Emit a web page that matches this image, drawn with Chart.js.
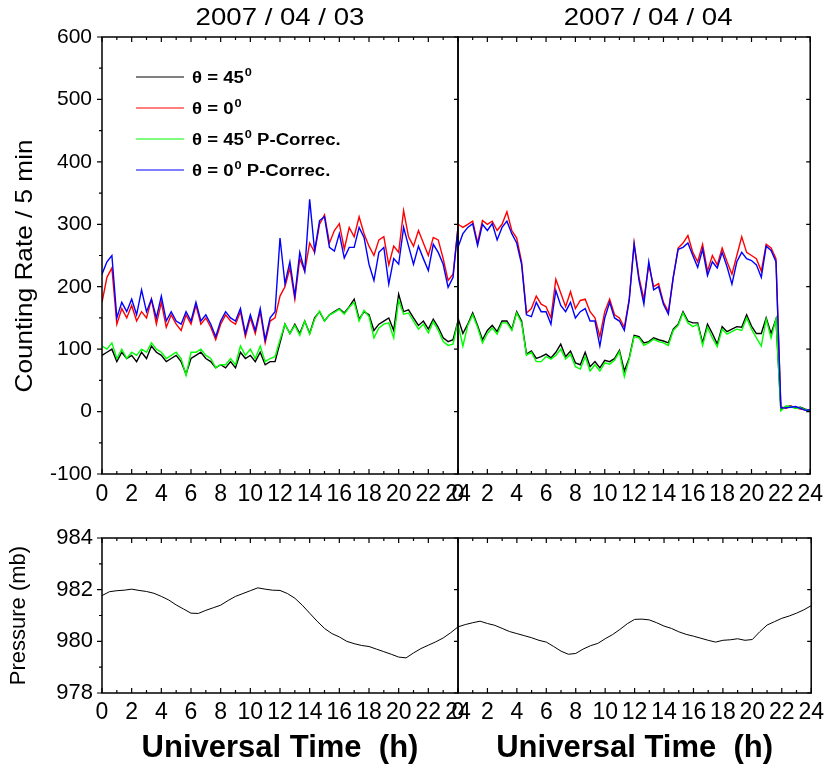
<!DOCTYPE html>
<html>
<head>
<meta charset="utf-8">
<title>Counting rate and pressure, 2007/04/03-04</title>
<script src="https://cdn.jsdelivr.net/npm/chart.js@4.4.0/dist/chart.umd.min.js"></script>
<style>
  body { margin: 0; background: #fff; }
  #wrap { position: relative; width: 830px; height: 772px; }
  #wrap canvas { position: absolute; left: 0; top: 0; }
</style>
</head>
<body>
<div id="wrap">
  <canvas id="rateDay1" width="830" height="772"></canvas>
  <canvas id="rateDay2" width="830" height="772"></canvas>
  <canvas id="pressDay1" width="830" height="772"></canvas>
  <canvas id="pressDay2" width="830" height="772"></canvas>
</div>
<script>
// counting rate (counts / 5 min), one value every 20 min, 0h..24h
const rate45Day1 = [90, 95, 100, 80, 95, 85, 90, 80, 95, 85, 105, 95, 90, 80, 85, 90, 80, 60, 85, 90, 95, 85, 80, 70, 75, 70, 80, 70, 95, 85, 90, 80, 95, 75, 80, 80, 110,
  140, 125, 140, 125, 145, 125, 150, 160, 145, 155, 160, 165, 158, 168, 180, 148, 160, 155, 130, 140, 145, 150, 130, 188, 160, 163, 150, 138, 145, 132, 148, 135, 118, 112, 115, 145];
const rate0Day1 = [175, 215, 230, 140, 165, 150, 170, 145, 160, 150, 180, 140, 175, 135, 155, 140, 130, 155, 140, 170, 140, 150, 135, 115, 140, 155, 145, 140, 160, 120, 150, 125, 160, 110, 145, 150, 185,
  200, 230, 180, 245, 225, 270, 255, 300, 315, 270, 290, 301, 260, 295, 280, 312, 285, 265, 250, 275, 280, 235, 265, 255, 322, 280, 265, 290, 270, 250, 279, 275, 245, 210, 220, 295];
const rate45CorrDay1 = [105, 100, 110, 85, 100, 85, 95, 90, 100, 95, 110, 100, 95, 85, 90, 95, 85, 58, 95, 95, 100, 90, 85, 70, 75, 75, 85, 75, 105, 90, 100, 85, 105, 80, 85, 88, 115,
  140, 125, 138, 122, 145, 124, 148, 161, 145, 155, 159, 164, 156, 167, 175, 145, 162, 152, 118, 134, 140, 142, 118, 178, 156, 158, 145, 132, 140, 126, 144, 130, 112, 106, 108, 145];
const rate0CorrDay1 = [220, 240, 250, 150, 175, 160, 180, 155, 195, 160, 180, 150, 185, 145, 160, 145, 140, 160, 145, 175, 145, 155, 140, 120, 145, 160, 150, 145, 165, 125, 155, 130, 165, 115, 150, 160, 278,
  205, 240, 185, 255, 225, 340, 257, 306, 312, 263, 257, 285, 246, 263, 263, 295, 279, 236, 210, 255, 263, 204, 245, 236, 295, 265, 236, 265, 245, 226, 268, 255, 236, 199, 215, 295];

const rate45Day2 = [150, 125, 140, 158, 138, 115, 130, 138, 128, 145, 145, 132, 160, 145, 92, 97, 85, 88, 92, 86, 95, 108, 88, 97, 78, 75, 95, 72, 80, 70, 82, 80, 85, 98, 65, 86, 122,
  120, 110, 112, 118, 115, 113, 110, 132, 140, 160, 145, 142, 142, 110, 140, 125, 108, 136, 128, 132, 136, 135, 155, 137, 125, 125, 150, 125, 148, 3, 8, 9, 6, 7, 4, 2];
const rate0Day2 = [300, 295, 300, 305, 270, 306, 300, 305, 290, 300, 320, 290, 278, 240, 158, 165, 185, 172, 168, 150, 212, 190, 168, 192, 165, 178, 180, 160, 150, 120, 160, 180, 155, 150, 135, 180, 270,
  215, 180, 235, 200, 205, 175, 160, 215, 262, 270, 282, 255, 240, 268, 225, 250, 235, 262, 240, 220, 250, 280, 255, 250, 245, 225, 268, 262, 245, 8, 5, 9, 6, 4, 3, 2];
const rate45CorrDay2 = [140, 105, 138, 155, 135, 110, 125, 134, 124, 142, 142, 130, 158, 142, 90, 95, 80, 80, 88, 84, 90, 100, 84, 92, 72, 68, 88, 65, 75, 65, 78, 76, 82, 96, 56, 84, 120,
  118, 106, 110, 116, 112, 110, 106, 130, 138, 158, 142, 136, 140, 106, 135, 118, 104, 132, 124, 128, 132, 130, 150, 132, 118, 105, 148, 118, 148, 1, 9, 8, 5, 6, 3, 1];
const rate0CorrDay2 = [263, 285, 295, 301, 266, 300, 290, 301, 275, 295, 305, 285, 270, 236, 155, 152, 175, 160, 160, 140, 194, 170, 160, 175, 150, 160, 165, 145, 145, 105, 150, 175, 150, 145, 130, 178, 268,
  210, 172, 240, 195, 200, 172, 156, 215, 260, 263, 270, 250, 231, 260, 218, 240, 230, 255, 232, 204, 240, 255, 245, 242, 235, 215, 265, 258, 240, 6, 6, 7, 8, 5, 2, 3];

// station pressure (mb), one value every 30 min
const pressureDay1 = [981.77, 981.92, 981.96, 981.98, 982.02, 981.97, 981.93, 981.86, 981.74, 981.60, 981.41, 981.25, 981.09, 981.08, 981.20, 981.30, 981.40,
  981.58, 981.74, 981.85, 981.96, 982.07, 982.02, 981.98, 981.97, 981.85, 981.67, 981.40, 981.09, 980.78, 980.50, 980.30, 980.17, 980.00,
  979.91, 979.84, 979.80, 979.70, 979.60, 979.50, 979.39, 979.36, 979.55, 979.72, 979.85, 979.98, 980.13, 980.33, 980.56];
const pressureDay2 = [980.56, 980.65, 980.72, 980.78, 980.69, 980.62, 980.50, 980.38, 980.30, 980.22, 980.14, 980.04, 979.97, 979.80, 979.62, 979.50, 979.53,
  979.70, 979.83, 979.92, 980.10, 980.26, 980.46, 980.68, 980.85, 980.86, 980.83, 980.72, 980.59, 980.50, 980.37, 980.27, 980.20, 980.12,
  980.04, 979.97, 980.04, 980.06, 980.10, 980.04, 980.07, 980.37, 980.63, 980.76, 980.89, 980.98, 981.09, 981.22, 981.38];

const dayTitles = ['2007 / 04 / 03', '2007 / 04 / 04'];
const seriesAngles = ['45', '0', '45', '0'];
const seriesSuffix = ['', '', ' P-Correc.', ' P-Correc.'];
const seriesColors = ['#000000', '#ff0000', '#00ff00', '#0000ff'];

const rateStepMin = 20;
const pressStepMin = 30;
const rateHours = rate0Day1.map((_, i) => i * rateStepMin / 60);
const pressHours = pressureDay1.map((_, i) => i * pressStepMin / 60);

const sans = '"Liberation Sans", Arial, sans-serif';
Chart.defaults.font.family = sans;
Chart.defaults.color = '#000';

function pts(values, hours) {
  return values.map((v, i) => ({x: hours[i], y: v}));
}

// text drawn a little wider than the font's natural width
function wideText(ctx, text, x, y, sx, rot) {
  ctx.save();
  ctx.translate(x, y);
  if (rot) ctx.rotate(rot);
  ctx.scale(sx, 1);
  ctx.fillText(text, 0, 0);
  ctx.restore();
  return ctx.measureText(text).width * sx;
}

// frame + tick marks (left ticks point out, the rest point in)
const frameTicks = {
  id: 'frameTicks',
  afterDatasetsDraw(chart, args, o) {
    const {ctx, chartArea: a, scales: {x, y}} = chart;
    ctx.save();
    ctx.strokeStyle = '#000';
    ctx.lineWidth = 1.5;
    ctx.strokeRect(a.left, a.top, a.right - a.left, a.bottom - a.top);
    ctx.lineWidth = 1.2;
    ctx.beginPath();
    for (let h = 0; h <= 24; h++) {
      const px = x.getPixelForValue(h);
      const len = h % 2 === 0 ? 5 : 3;
      ctx.moveTo(px, a.bottom); ctx.lineTo(px, a.bottom - len);
      ctx.moveTo(px, a.top); ctx.lineTo(px, a.top + len);
    }
    const n = Math.round((y.max - y.min) / o.yMinor);
    for (let i = 0; i <= n; i++) {
      const py = y.getPixelForValue(y.min + i * o.yMinor);
      const major = i % 2 === 0;
      if (o.leftOut) {
        ctx.moveTo(a.left, py); ctx.lineTo(a.left - (major ? 5 : 3), py);
      }
      if (major) {
        ctx.moveTo(a.right, py); ctx.lineTo(a.right - 4, py);
      }
    }
    ctx.stroke();
    ctx.restore();
  }
};

// date above each counting-rate panel, y title and legend in the first one
const captions = {
  id: 'captions',
  afterDraw(chart, args, o) {
    const {ctx, chartArea: a} = chart;
    ctx.save();
    ctx.fillStyle = '#000';
    ctx.font = '24px ' + sans;
    ctx.textAlign = 'center';
    ctx.textBaseline = 'alphabetic';
    wideText(ctx, o.title, (a.left + a.right) / 2 + o.titleShift, 25, 1.15);
    if (o.legend) {
      ctx.textBaseline = 'middle';
      wideText(ctx, 'Counting Rate / 5 min', 25, 266, 1.09, -Math.PI / 2);
      ctx.textBaseline = 'alphabetic';
      ctx.textAlign = 'left';
      seriesAngles.forEach((ang, i) => {
        const ly = a.top + 40 + i * 31;
        ctx.strokeStyle = seriesColors[i];
        ctx.lineWidth = 1;
        ctx.beginPath();
        ctx.moveTo(a.left + 34, ly);
        ctx.lineTo(a.left + 82, ly);
        ctx.stroke();
        let tx = a.left + 90;
        ctx.font = 'bold 16px ' + sans;
        tx += wideText(ctx, '\u03b8 = ' + ang, tx, ly + 6, 1.16) + 1;
        ctx.font = 'bold 11px ' + sans;
        tx += wideText(ctx, '0', tx, ly - 1, 1.16);
        if (seriesSuffix[i]) {
          ctx.font = 'bold 16px ' + sans;
          wideText(ctx, seriesSuffix[i], tx, ly + 6, 1.16);
        }
      });
    }
    ctx.restore();
  }
};

function rateChart(id, day, black, red, green, blue) {
  const first = day === 0;
  new Chart(document.getElementById(id), {
    type: 'line',
    data: {
      // blue and green go on top of red and black
      datasets: [
        {data: pts(blue, rateHours), borderColor: seriesColors[3]},
        {data: pts(green, rateHours), borderColor: seriesColors[2]},
        {data: pts(red, rateHours), borderColor: seriesColors[1]},
        {data: pts(black, rateHours), borderColor: seriesColors[0]}
      ]
    },
    options: {
      responsive: false,
      animation: false,
      devicePixelRatio: 1,
      events: [],
      layout: {padding: first ? {left: 0, top: 37, right: 372, bottom: 268} : {left: 458, top: 37, right: 16, bottom: 268}},
      elements: {point: {radius: 0}, line: {borderWidth: 1.4, tension: 0}},
      scales: {
        x: {
          type: 'linear', min: 0, max: 24,
          grid: {display: false, drawTicks: false}, border: {display: false},
          ticks: {stepSize: 2, autoSkip: false, maxRotation: 0, padding: 7, font: {size: 23}},
          afterFit: s => { s.height = 30; }
        },
        y: {
          min: -100, max: 600,
          grid: {display: false, drawTicks: false}, border: {display: false},
          ticks: {display: first, stepSize: 100, padding: 10, font: {size: 21}},
          afterFit: s => { s.width = first ? 102 : 0; }
        }
      },
      plugins: {
        legend: {display: false},
        tooltip: {enabled: false},
        frameTicks: {yMinor: 50, leftOut: first},
        captions: {title: dayTitles[day], titleShift: first ? 0 : 14, legend: first}
      }
    },
    plugins: [frameTicks, captions]
  });
}

function pressureChart(id, day, values) {
  const first = day === 0;
  new Chart(document.getElementById(id), {
    type: 'line',
    data: {
      datasets: [{data: pts(values, pressHours), borderColor: '#000', borderWidth: 1}]
    },
    options: {
      responsive: false,
      animation: false,
      devicePixelRatio: 1,
      events: [],
      layout: {padding: first ? {left: 0, top: 538, right: 372, bottom: 0} : {left: 458, top: 538, right: 16, bottom: 0}},
      elements: {point: {radius: 0}, line: {tension: 0}},
      scales: {
        x: {
          type: 'linear', min: 0, max: 24,
          grid: {display: false, drawTicks: false}, border: {display: false},
          ticks: {stepSize: 2, autoSkip: false, maxRotation: 0, padding: 6, font: {size: 23}},
          title: {display: true, text: 'Universal Time  (h)', font: {size: 31, weight: 'bold'}, padding: {top: 0, bottom: 5}},
          afterFit: s => { s.height = 79; }
        },
        y: {
          min: 978, max: 984,
          grid: {display: false, drawTicks: false}, border: {display: false},
          ticks: {display: first, stepSize: 2, padding: 9, font: {size: 22}},
          title: {display: first, text: 'Pressure (mb)', font: {size: 22}, padding: {top: 6, bottom: 0}},
          afterFit: s => { s.width = first ? 102 : 0; }
        }
      },
      plugins: {
        legend: {display: false},
        tooltip: {enabled: false},
        frameTicks: {yMinor: 1, leftOut: first}
      }
    },
    plugins: [frameTicks]
  });
}

rateChart('rateDay1', 0, rate45Day1, rate0Day1, rate45CorrDay1, rate0CorrDay1);
rateChart('rateDay2', 1, rate45Day2, rate0Day2, rate45CorrDay2, rate0CorrDay2);
pressureChart('pressDay1', 0, pressureDay1);
pressureChart('pressDay2', 1, pressureDay2);
</script>
</body>
</html>
